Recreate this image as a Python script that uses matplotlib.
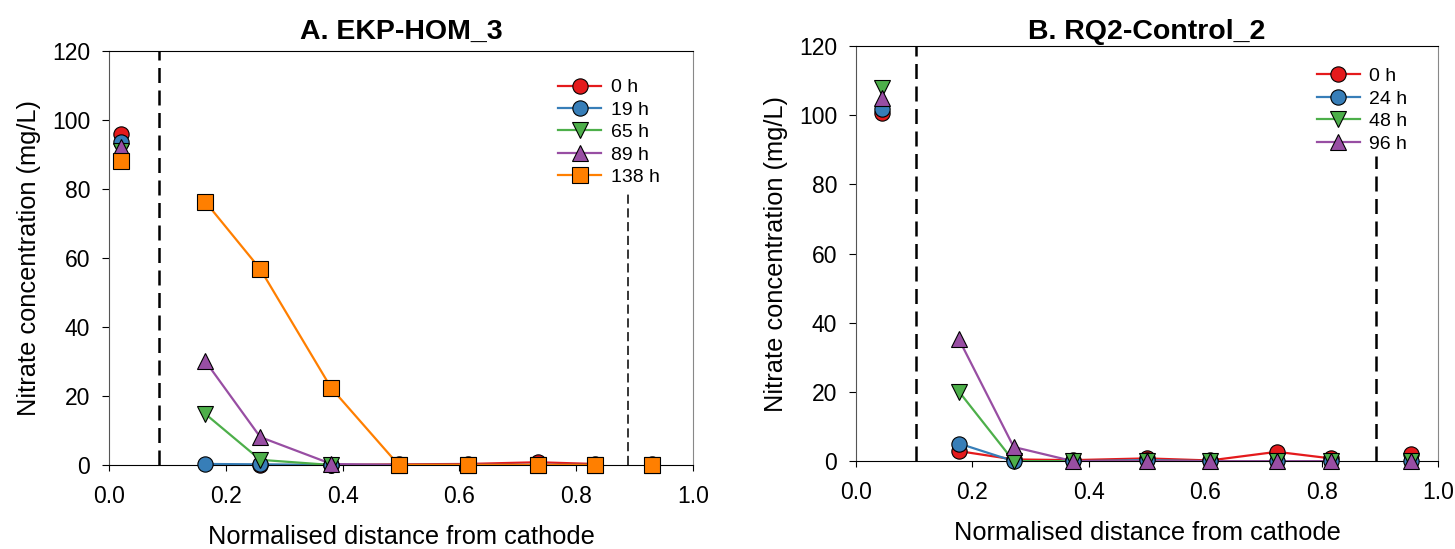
import numpy as np
import matplotlib
matplotlib.use("Agg")
import matplotlib.pyplot as plt

plt.rcParams['font.family'] = ['Liberation Sans', 'DejaVu Sans']

# panel A: EKP-HOM_3
dist_a = [0.021, 0.165, 0.259, 0.381, 0.496, 0.614, 0.734, 0.832, 0.930]
labels_a = ['0 h', '19 h', '65 h', '89 h', '138 h']
conc_a = [
    [96.0, np.nan, 0.0, 0.0, 0.2, 0.3, 0.8, 0.3, 0.2],
    [93.6, 0.3, 0.2, 0.0, 0.0, 0.0, 0.0, 0.0, 0.0],
    [91.0, 14.8, 1.5, 0.0, 0.0, 0.0, 0.0, 0.0, 0.0],
    [92.3, 30.1, 8.1, 0.3, 0.0, 0.0, 0.0, 0.0, 0.0],
    [88.2, 76.3, 56.8, 22.2, 0.0, 0.0, 0.0, 0.0, 0.0],
]
walls_a = [0.086, 0.889]

# panel B: RQ2-Control_2
dist_b = [0.045, 0.177, 0.271, 0.373, 0.500, 0.608, 0.723, 0.816, 0.954]
labels_b = ['0 h', '24 h', '48 h', '96 h']
conc_b = [
    [100.8, 2.9, 0.5, 0.3, 0.8, 0.2, 2.7, 0.8, 2.0],
    [101.8, 5.1, 0.0, 0.0, 0.3, 0.0, 0.0, 0.0, 0.0],
    [108.0, 20.1, 0.0, 0.0, 0.0, 0.0, 0.0, 0.0, 0.0],
    [105.0, 35.2, 4.1, 0.0, 0.0, 0.0, 0.0, 0.0, 0.0],
]
walls_b = [0.103, 0.893]

colors = ['#e41a1c', '#377eb8', '#4daf4a', '#984ea3', '#ff7f00']
markers = ['o', 'o', 'v', '^', 's']


def draw_panel(ax, dist, conc, labels, walls, title, wall_lw, wall_top, leg_anchor, tpad):
    x = np.array(dist)
    for i, (vals, lab) in enumerate(zip(conc, labels)):
        y = np.array(vals, dtype=float)
        # line only through the soil compartments, reservoirs stand alone
        inner = slice(1, len(x) - 1)
        ok = ~np.isnan(y[inner])
        ax.plot(x[inner][ok], y[inner][ok], color=colors[i], lw=1.6, zorder=2)
        ax.plot(x, y, ls='none', marker=markers[i], ms=11, mfc=colors[i],
                mec='black', mew=0.8, zorder=3, clip_on=False)
        ax.plot([], [], color=colors[i], lw=1.6, marker=markers[i], ms=11,
                mfc=colors[i], mec='black', mew=0.8, label=lab)
    # electrode walls, the anode one stops under the legend
    for wx, lw, top in zip(walls, wall_lw, wall_top):
        ax.axvline(wx, ymax=top, color='black', ls=(0, (6, 3)), lw=lw, zorder=1)
    ax.set_xlim(0, 1.0)
    ax.set_ylim(0, 120)
    ticks = np.arange(0, 1.01, 0.2)
    ax.set_xticks(ticks)
    ax.set_xticklabels(['%.1f' % v for v in ticks])
    ax.set_yticks(np.arange(0, 121, 20))
    ax.tick_params(direction='out', labelsize=16.5, top=False, right=False)
    ax.tick_params(axis='x', length=4.5, pad=10)
    ax.tick_params(axis='y', length=5, pad=8.5)
    ax.set_xlabel('Normalised distance from cathode', fontsize=18.3, labelpad=12)
    ax.set_ylabel('Nitrate concentration (mg/L)', fontsize=18.3, labelpad=8)
    ax.set_title(title, fontsize=20.5, fontweight='bold', pad=tpad)
    ax.spines['right'].set_color('#888888')
    ax.spines['left'].set_color('#555555')
    leg = ax.legend(loc='upper right', bbox_to_anchor=leg_anchor, fontsize=14,
                    frameon=False, handlelength=2.2,
                    handletextpad=0.5, labelspacing=0.25, borderaxespad=0)
    leg.set_zorder(5)


fig = plt.figure(figsize=(14.55, 5.49), dpi=100)
ax1 = fig.add_axes([0.0749, 0.153, 0.4014, 0.754])
ax2 = fig.add_axes([0.5883, 0.160, 0.4000, 0.756])

draw_panel(ax1, dist_a, conc_a, labels_a, walls_a, 'A. EKP-HOM_3',
           [1.8, 1.1], [1.0, 0.665], (0.956, 0.952), 8.5)
draw_panel(ax2, dist_b, conc_b, labels_b, walls_b, 'B. RQ2-Control_2',
           [1.8, 1.8], [1.0, 0.735], (0.961, 0.967), 5)

fig.savefig('out.png', dpi=100)
